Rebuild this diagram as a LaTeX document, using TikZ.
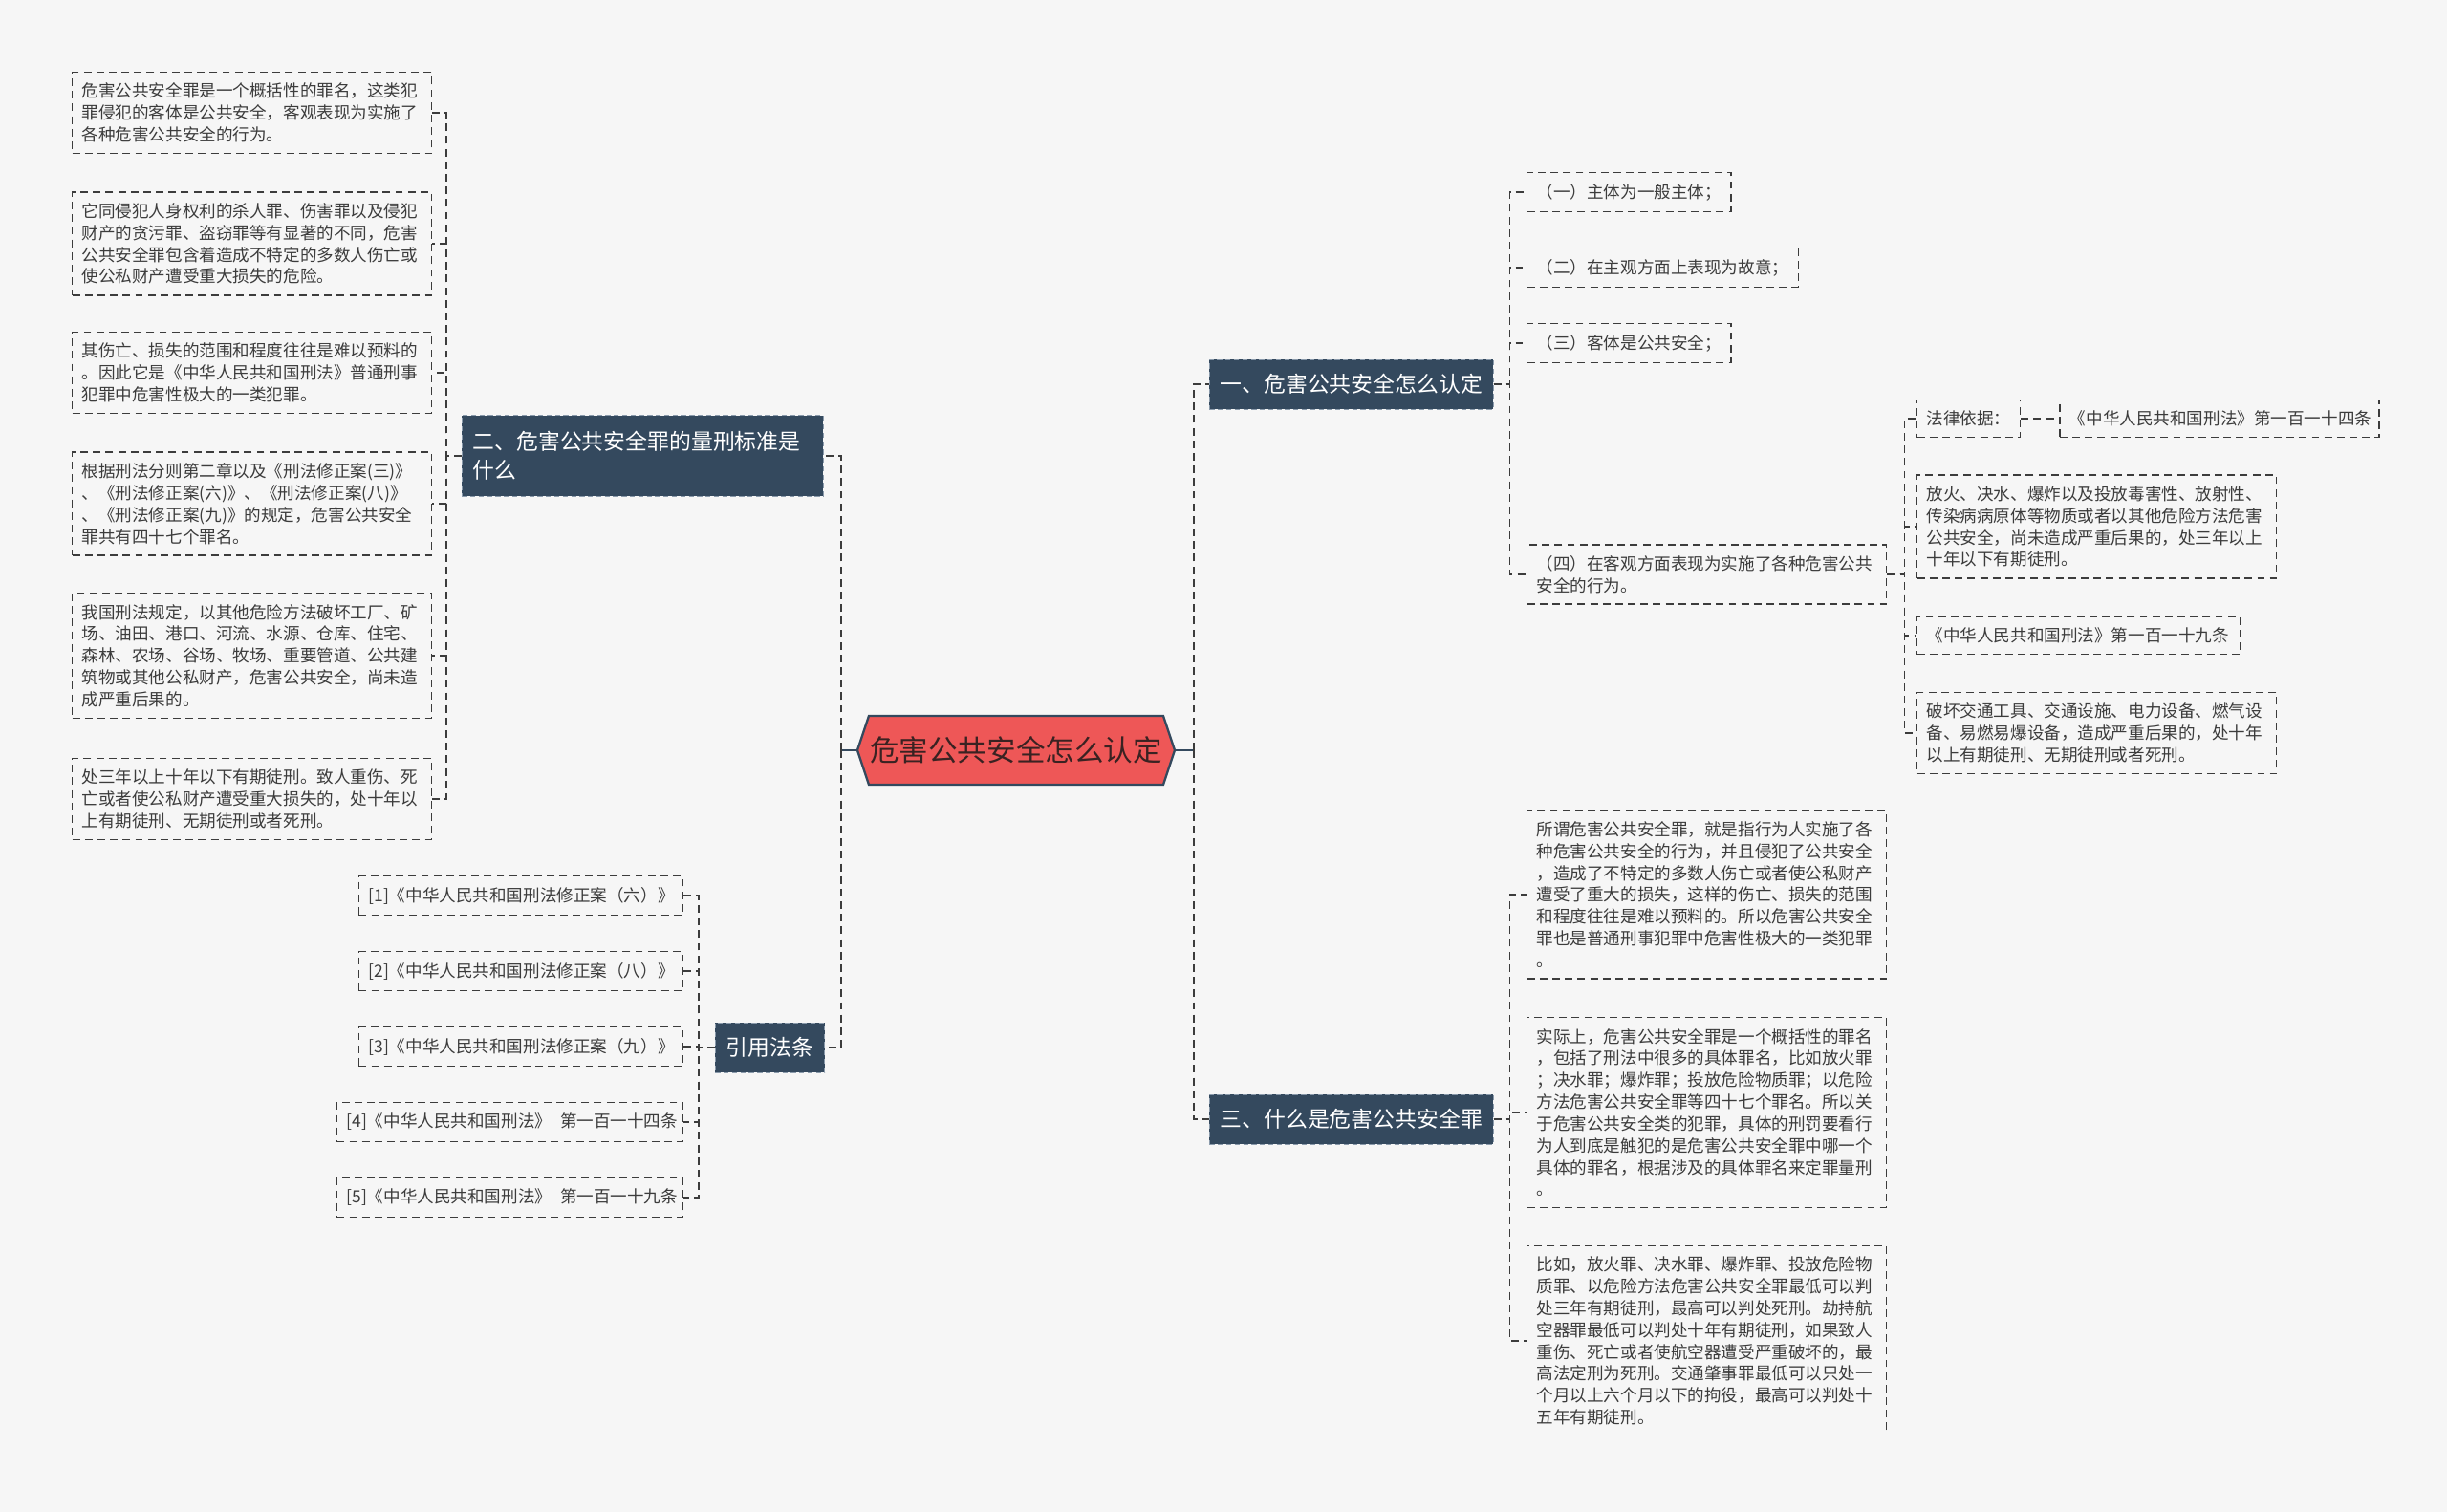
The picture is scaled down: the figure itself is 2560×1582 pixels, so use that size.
\documentclass[tikz,border=0pt]{standalone}
\usepackage{fontspec}
\setmainfont{Noto Sans CJK SC}
\usetikzlibrary{positioning}
\definecolor{pagebg}{HTML}{F6F6F6}
\definecolor{navy}{HTML}{34495E}
\definecolor{hubred}{HTML}{EE5757}
\definecolor{hubink}{HTML}{3A2222}
\definecolor{ink}{HTML}{3C3C3C}
\definecolor{rim}{HTML}{8A9AAB}
\tikzset{
  hub/.style={font=\fontsize{17.4pt}{20pt}\selectfont, text=hubink,
              minimum width=6.64cm, minimum height=1.44cm, inner sep=0pt},
  hexa/.style={draw=navy, line width=1.3pt, fill=hubred},
  topic/.style={fill=navy, draw=rim, dash pattern=on 3pt off 2pt, text=white, align=left,
                font=\fontsize{13pt}{17pt}\selectfont, inner xsep=6.5pt, minimum height=1.04cm},
  leaf/.style={draw=ink, dash pattern=on 4.5pt off 3pt, line width=0.8pt, text=ink, align=left,
               font=\fontsize{10pt}{13pt}\selectfont, inner xsep=0.2cm, inner ysep=6.5pt},
  para/.style={leaf, text width=7.12cm},
  link/.style={draw=ink, dash pattern=on 4.5pt off 3pt, line width=0.8pt},
  stem/.style={draw=navy, line width=1.3pt}
}
\begin{document}
\begin{tikzpicture}[x=0.02cm, y=-0.02cm]
  \useasboundingbox (0,0) rectangle (2560,1582);
  \fill[pagebg] (0,0) rectangle (2560,1582);
  \draw[hexa] (897,785) -- (909,749) -- (1217,749) -- (1229,785) -- (1217,821) -- (909,821) -- cycle;
  \node[hub] (C) at (1063,785) {危害公共安全怎么认定};
  \node[topic, anchor=west] (B1) at (1265,402) {一、危害公共安全怎么认定};
  \node[topic, anchor=west, text width=7.1cm, minimum height=1.7cm] (B2) at (483,477) {二、危害公共安全罪的量刑标准是\\什么};
  \node[topic, anchor=west] (R) at (748,1096) {引用法条};
  \node[topic, anchor=west] (B3) at (1265,1171) {三、什么是危害公共安全罪};

  \node[para, anchor=west] (l1) at (75,118) {危害公共安全罪是一个概括性的罪名，这类犯\\罪侵犯的客体是公共安全，客观表现为实施了\\各种危害公共安全的行为。};
  \node[para, anchor=west] (l2) at (75,255) {它同侵犯人身权利的杀人罪、伤害罪以及侵犯\\财产的贪污罪、盗窃罪等有显著的不同，危害\\公共安全罪包含着造成不特定的多数人伤亡或\\使公私财产遭受重大损失的危险。};
  \node[para, anchor=west] (l3) at (75,390) {其伤亡、损失的范围和程度往往是难以预料的\\。因此它是《中华人民共和国刑法》普通刑事\\犯罪中危害性极大的一类犯罪。};
  \node[para, anchor=west] (l4) at (75,527) {根据刑法分则第二章以及《刑法修正案(三)》\\、《刑法修正案(六)》、《刑法修正案(八)》\\、《刑法修正案(九)》的规定，危害公共安全\\罪共有四十七个罪名。};
  \node[para, anchor=west] (l5) at (75,686) {我国刑法规定，以其他危险方法破坏工厂、矿\\场、油田、港口、河流、水源、仓库、住宅、\\森林、农场、谷场、牧场、重要管道、公共建\\筑物或其他公私财产，危害公共安全，尚未造\\成严重后果的。};
  \node[para, anchor=west] (l6) at (75,836) {处三年以上十年以下有期徒刑。致人重伤、死\\亡或者使公私财产遭受重大损失的，处十年以\\上有期徒刑、无期徒刑或者死刑。};

  \node[leaf, anchor=east, text width=6.38cm] (c1) at (715,937) {[1]《中华人民共和国刑法修正案（六）》};
  \node[leaf, anchor=east, text width=6.38cm] (c2) at (715,1016) {[2]《中华人民共和国刑法修正案（八）》};
  \node[leaf, anchor=east, text width=6.38cm] (c3) at (715,1095) {[3]《中华人民共和国刑法修正案（九）》};
  \node[leaf, anchor=east, text width=6.84cm] (c4) at (715,1174) {[4]《中华人民共和国刑法》\kern0.5em 第一百一十四条};
  \node[leaf, anchor=east, text width=6.84cm] (c5) at (715,1253) {[5]《中华人民共和国刑法》\kern0.5em 第一百一十九条};

  \node[leaf, anchor=west] (r1) at (1597,201) {（一）主体为一般主体；};
  \node[leaf, anchor=west] (r2) at (1597,280) {（二）在主观方面上表现为故意；};
  \node[leaf, anchor=west] (r3) at (1597,359) {（三）客体是公共安全；};
  \node[para, anchor=west] (r4) at (1597,601) {（四）在客观方面表现为实施了各种危害公共\\安全的行为。};

  \node[leaf, anchor=west] (law) at (2005,438) {法律依据：};
  \node[leaf, right=0.8cm of law, text width=6.28cm] (art) {《中华人民共和国刑法》第一百一十四条};
  \node[para, anchor=west] (p1) at (2005,551) {放火、决水、爆炸以及投放毒害性、放射性、\\传染病病原体等物质或者以其他危险方法危害\\公共安全，尚未造成严重后果的，处三年以上\\十年以下有期徒刑。};
  \node[leaf, anchor=west, text width=6.36cm] (p2) at (2005,665) {《中华人民共和国刑法》第一百一十九条};
  \node[para, anchor=west] (p3) at (2005,767) {破坏交通工具、交通设施、电力设备、燃气设\\备、易燃易爆设备，造成严重后果的，处十年\\以上有期徒刑、无期徒刑或者死刑。};

  \node[para, anchor=west] (s1) at (1597,936) {所谓危害公共安全罪，就是指行为人实施了各\\种危害公共安全的行为，并且侵犯了公共安全\\，造成了不特定的多数人伤亡或者使公私财产\\遭受了重大的损失，这样的伤亡、损失的范围\\和程度往往是难以预料的。所以危害公共安全\\罪也是普通刑事犯罪中危害性极大的一类犯罪\\。};
  \node[para, anchor=west] (s2) at (1597,1164) {实际上，危害公共安全罪是一个概括性的罪名\\，包括了刑法中很多的具体罪名，比如放火罪\\；决水罪；爆炸罪；投放危险物质罪；以危险\\方法危害公共安全罪等四十七个罪名。所以关\\于危害公共安全类的犯罪，具体的刑罚要看行\\为人到底是触犯的是危害公共安全罪中哪一个\\具体的罪名，根据涉及的具体罪名来定罪量刑\\。};
  \node[para, anchor=west] (s3) at (1597,1403) {比如，放火罪、决水罪、爆炸罪、投放危险物\\质罪、以危险方法危害公共安全罪最低可以判\\处三年有期徒刑，最高可以判处死刑。劫持航\\空器罪最低可以判处十年有期徒刑，如果致人\\重伤、死亡或者使航空器遭受严重破坏的，最\\高法定刑为死刑。交通肇事罪最低可以只处一\\个月以上六个月以下的拘役，最高可以判处十\\五年有期徒刑。};

  \coordinate (Lj) at (880,785);
  \coordinate (Rj) at (1249,785);
  \draw[stem] (C.west) -- (Lj);
  \draw[stem] (C.east) -- (Rj);
  \draw[link] (Lj) |- (B2.east);
  \draw[link] (Lj) |- (R.east);
  \draw[link] (Rj) |- (B1.west);
  \draw[link] (Rj) |- (B3.west);
  \foreach \n in {l1,l2,l3,l4,l5,l6} \draw[link] (B2.west) -- ++(-16,0) |- (\n.east);
  \foreach \n in {c1,c2,c3,c4,c5} \draw[link] (R.west) -- ++(-17,0) |- (\n.east);
  \foreach \n in {r1,r2,r3,r4} \draw[link] (B1.east) -- ++(17,0) |- (\n.west);
  \foreach \n in {law,p1,p2,p3} \draw[link] (r4.east) -- ++(18,0) |- (\n.west);
  \draw[link] (law.east) -- (art.west);
  \foreach \n in {s1,s2,s3} \draw[link] (B3.east) -- ++(17,0) |- (\n.west);
\end{tikzpicture}
\end{document}
